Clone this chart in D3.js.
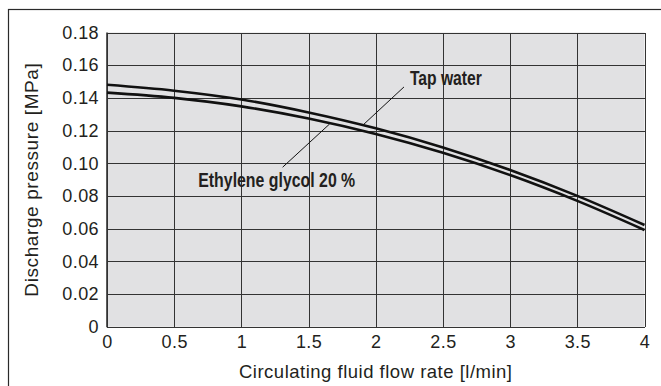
<!DOCTYPE html>
<html>
<head>
<meta charset="utf-8">
<script src="https://cdn.jsdelivr.net/npm/d3@7"></script>
<style>
  html, body { margin: 0; padding: 0; background: #fff; }
  svg { display: block; }
  text { font-family: "Liberation Sans", Arial, Helvetica, sans-serif; fill: #231f20; }
</style>
</head>
<body>
<svg id="chart" width="661" height="386"></svg>
<script>
// Flow rate [l/min] at which each curve is sampled
const flowRates = [0, 0.5, 1, 1.5, 2, 2.5, 3, 3.5, 4];
// Discharge pressure [MPa] for each fluid
const tapWater = [0.148, 0.1444, 0.1390, 0.1311, 0.1214, 0.1097, 0.0959, 0.0801, 0.0623];
const ethyleneGlycol = [0.1432, 0.1400, 0.1348, 0.1274, 0.1179, 0.1064, 0.0928, 0.0770, 0.0592];

// Axis ticks
const xTicks = [0, 0.5, 1, 1.5, 2, 2.5, 3, 3.5, 4];
const xTickLabels = ["0", "0.5", "1", "1.5", "2", "2.5", "3", "3.5", "4"];
const yTicks = [0, 0.02, 0.04, 0.06, 0.08, 0.10, 0.12, 0.14, 0.16, 0.18];
const yTickLabels = ["0", "0.02", "0.04", "0.06", "0.08", "0.10", "0.12", "0.14", "0.16", "0.18"];

// Curve labels: text anchor and leader line in data units
const curveLabels = ["Tap water", "Ethylene glycol 20 %"];
const labelAnchors = [[2.254, 0.1476], [0.679, 0.0853]];
const leaderStarts = [[2.21, 0.1467], [1.307, 0.0976]];
const leaderEnds = [[1.905, 0.1234], [1.656, 0.1240]];

const svg = d3.select("#chart");
const W = 661, H = 386;

const plot = { left: 107, right: 644.5, top: 32.5, bottom: 326.8 };

const x = d3.scaleLinear().domain([0, 4]).range([plot.left, plot.right]);
const y = d3.scaleLinear().domain([0, 0.18]).range([plot.bottom, plot.top]);

// Outer frame
svg.append("rect")
  .attr("x", 8.5).attr("y", 9.5)
  .attr("width", W).attr("height", H)
  .attr("fill", "none").attr("stroke", "#2a2a2a").attr("stroke-width", 1.2);

// Plot background
svg.append("rect")
  .attr("x", plot.left).attr("y", plot.top)
  .attr("width", plot.right - plot.left).attr("height", plot.bottom - plot.top)
  .attr("fill", "#e1e1e3");

// Grid
const grid = svg.append("g").attr("stroke", "#333").attr("stroke-width", 1).attr("shape-rendering", "crispEdges");
grid.selectAll("line.v").data(xTicks).join("line")
  .attr("class", "v")
  .attr("x1", d => Math.round(x(d)) + 0.5).attr("x2", d => Math.round(x(d)) + 0.5)
  .attr("y1", plot.top).attr("y2", plot.bottom);
grid.selectAll("line.h").data(yTicks).join("line")
  .attr("class", "h")
  .attr("y1", d => Math.round(y(d)) + 0.5).attr("y2", d => Math.round(y(d)) + 0.5)
  .attr("x1", plot.left).attr("x2", plot.right);

// Left edge slightly heavier
svg.append("line")
  .attr("x1", plot.left).attr("x2", plot.left)
  .attr("y1", plot.top).attr("y2", plot.bottom + 0.5)
  .attr("stroke", "#333").attr("stroke-width", 1.6);

// Axes (labels only; grid draws the lines)
const xAxis = d3.axisBottom(x).tickValues(xTicks)
  .tickFormat((d, i) => xTickLabels[i]).tickSize(0).tickPadding(8);
const xg = svg.append("g").attr("transform", `translate(0,${plot.bottom})`).call(xAxis);
xg.select(".domain").remove();
xg.selectAll("text").attr("font-size", 18).attr("fill", "#231f20")
  .attr("font-family", "'Liberation Sans', Arial, sans-serif").attr("letter-spacing", 0.4);

const yAxis = d3.axisLeft(y).tickValues(yTicks)
  .tickFormat((d, i) => yTickLabels[i]).tickSize(0).tickPadding(8);
const yg = svg.append("g").attr("transform", `translate(${plot.left},0)`).call(yAxis);
yg.select(".domain").remove();
yg.selectAll("text").attr("font-size", 18).attr("fill", "#231f20")
  .attr("font-family", "'Liberation Sans', Arial, sans-serif").attr("letter-spacing", 0.4);

// Axis titles
svg.append("text")
  .attr("x", (plot.left + plot.right) / 2).attr("y", 378)
  .attr("text-anchor", "middle").attr("font-size", 18.5).attr("letter-spacing", 0.5)
  .text("Circulating fluid flow rate [l/min]");

svg.append("text")
  .attr("transform", `translate(38,${(plot.top + plot.bottom) / 2}) rotate(-90)`)
  .attr("text-anchor", "middle").attr("font-size", 19).attr("letter-spacing", 0.6)
  .text("Discharge pressure [MPa]");

// Curves
const line = d3.line()
  .x((d, i) => x(flowRates[i]))
  .y(d => y(d))
  .curve(d3.curveMonotoneX);

[tapWater, ethyleneGlycol].forEach(series => {
  svg.append("path")
    .attr("d", line(series))
    .attr("fill", "none")
    .attr("stroke", "#111")
    .attr("stroke-width", 2.6);
});

// Leader lines
curveLabels.forEach((label, i) => {
  svg.append("line")
    .attr("x1", x(leaderStarts[i][0])).attr("y1", y(leaderStarts[i][1]))
    .attr("x2", x(leaderEnds[i][0])).attr("y2", y(leaderEnds[i][1]))
    .attr("stroke", "#111").attr("stroke-width", 1);
});

// Curve labels (condensed bold)
const labelWidths = [72, 157];
curveLabels.forEach((label, i) => {
  svg.append("text")
    .attr("x", x(labelAnchors[i][0])).attr("y", y(labelAnchors[i][1]))
    .attr("font-size", 19.5).attr("font-weight", "bold")
    .attr("textLength", labelWidths[i]).attr("lengthAdjust", "spacingAndGlyphs")
    .text(label);
});
</script>
</body>
</html>
